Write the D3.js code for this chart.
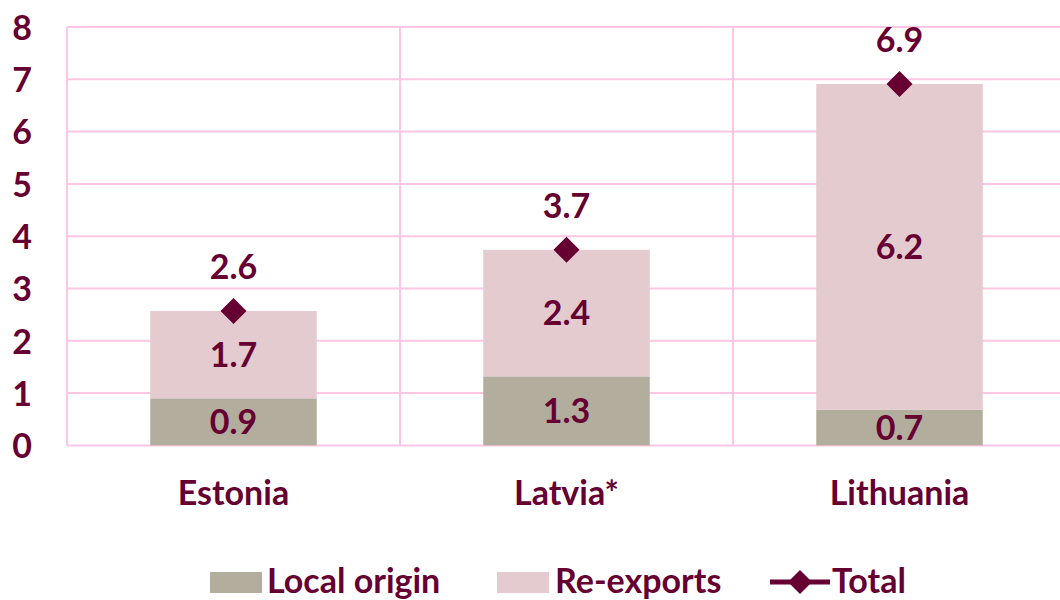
<!DOCTYPE html>
<html><head><meta charset="utf-8">
<script src="https://cdn.jsdelivr.net/npm/d3@7"></script>
<style>
html,body{margin:0;padding:0;background:#fff;}
svg{display:block;font-family:Lato,"Open Sans",sans-serif;font-weight:bold;}
</style></head>
<body>
<svg id="c" width="1060" height="600"></svg>
<script>
const categories = ["Estonia", "Latvia*", "Lithuania"];
const localOrigin = [0.9, 1.32, 0.68];
const reExports = [1.67, 2.42, 6.23];
const total = [2.57, 3.74, 6.91];
const localLabels = ["0.9", "1.3", "0.7"];
const reLabels = ["1.7", "2.4", "6.2"];
const totalLabels = ["2.6", "3.7", "6.9"];
const yTicks = [0, 1, 2, 3, 4, 5, 6, 7, 8];
const seriesNames = ["Local origin", "Re-exports", "Total"];

(function () {
const TXT = "#660033", C_LOCAL = "#B3AD9D", C_RE = "#E3CBD0", GRID = "#FCC6E4";
const FS = 34;
const svg = d3.select("#c");
const pL = 67, pR = 1066, pT = 27, pB = 445.4;
const x = d3.scaleBand().domain(categories).range([pL, pR]).padding(0);
const y = d3.scaleLinear().domain([0, 8]).range([pB, pT]);
const bw = x.bandwidth();

// grid
svg.append("g").selectAll("line").data(yTicks).join("line")
  .attr("x1", pL).attr("x2", pR).attr("y1", d => y(d)).attr("y2", d => y(d))
  .attr("stroke", GRID).attr("stroke-width", 2);
const vEdges = categories.map(c => x(c)).concat([pR]);
svg.append("g").selectAll("line").data(vEdges).join("line")
  .attr("x1", d => d).attr("x2", d => d).attr("y1", pT).attr("y2", pB)
  .attr("stroke", GRID).attr("stroke-width", 2);

// y axis labels
const ya = svg.append("g").attr("transform", `translate(${pL - 35},0)`)
  .call(d3.axisLeft(y).tickValues(yTicks).tickSize(0).tickPadding(0).tickFormat(d3.format("d")));
ya.select(".domain").remove();
ya.selectAll("text").attr("fill", TXT).style("font-size", FS + "px").style("font-family", "Lato").style("font-weight", "bold").attr("dy", "0.36em");

// bars
const data = categories.map((c, i) => ({c, l: localOrigin[i], r: reExports[i], t: total[i], ll: localLabels[i], rl: reLabels[i], tl: totalLabels[i]}));
const bx = d => x(d.c) + bw / 4;
svg.append("g").selectAll("rect").data(data).join("rect")
  .attr("x", bx).attr("width", bw / 2).attr("y", d => y(d.l)).attr("height", d => y(0) - y(d.l)).attr("fill", C_LOCAL);
svg.append("g").selectAll("rect").data(data).join("rect")
  .attr("x", bx).attr("width", bw / 2).attr("y", d => y(d.l + d.r)).attr("height", d => y(d.l) - y(d.l + d.r)).attr("fill", C_RE);

// segment labels
const cx = d => x(d.c) + bw / 2;
const mk = () => svg.append("g").attr("fill", TXT).attr("text-anchor", "middle").style("font-size", FS + "px");
mk().selectAll("text").data(data).join("text").attr("x", cx).attr("y", d => (y(0) + y(d.l)) / 2).attr("dy", "0.36em").text(d => d.ll);
mk().selectAll("text").data(data).join("text").attr("x", cx).attr("y", d => (y(d.l) + y(d.l + d.r)) / 2).attr("dy", "0.36em").text(d => d.rl);

// total markers
const diamond = (cxp, cyp, h) => `M${cxp},${cyp - h}L${cxp + h},${cyp}L${cxp},${cyp + h}L${cxp - h},${cyp}Z`;
svg.append("g").selectAll("path").data(data).join("path")
  .attr("d", d => diamond(cx(d), y(d.t), 13)).attr("fill", TXT);
mk().selectAll("text").data(data).join("text").attr("x", cx).attr("y", d => y(d.t) - 44).attr("dy", "0.36em").text(d => d.tl);

// category labels
mk().selectAll("text").data(data).join("text").attr("x", cx).attr("y", 493).attr("dy", "0.36em").text(d => d.c);

// legend
const lg = svg.append("g");
const lgY = 581;
lg.append("rect").attr("x", 210).attr("y", 572).attr("width", 52).attr("height", 21).attr("fill", C_LOCAL);
lg.append("text").attr("x", 267).attr("y", lgY).attr("dy", "0.36em").attr("fill", TXT).style("font-size", FS + "px").text(seriesNames[0]);
lg.append("rect").attr("x", 497).attr("y", 572).attr("width", 52).attr("height", 21).attr("fill", C_RE);
lg.append("text").attr("x", 555).attr("y", lgY).attr("dy", "0.36em").attr("fill", TXT).style("font-size", FS + "px").text(seriesNames[1]);
lg.append("line").attr("x1", 770).attr("x2", 830).attr("y1", lgY + 1).attr("y2", lgY + 1).attr("stroke", TXT).attr("stroke-width", 5);
lg.append("path").attr("d", diamond(800, lgY + 1, 12)).attr("fill", TXT);
lg.append("text").attr("x", 832).attr("y", lgY).attr("dy", "0.36em").attr("fill", TXT).style("font-size", FS + "px").text(seriesNames[2]);
})();
</script>
</body></html>
